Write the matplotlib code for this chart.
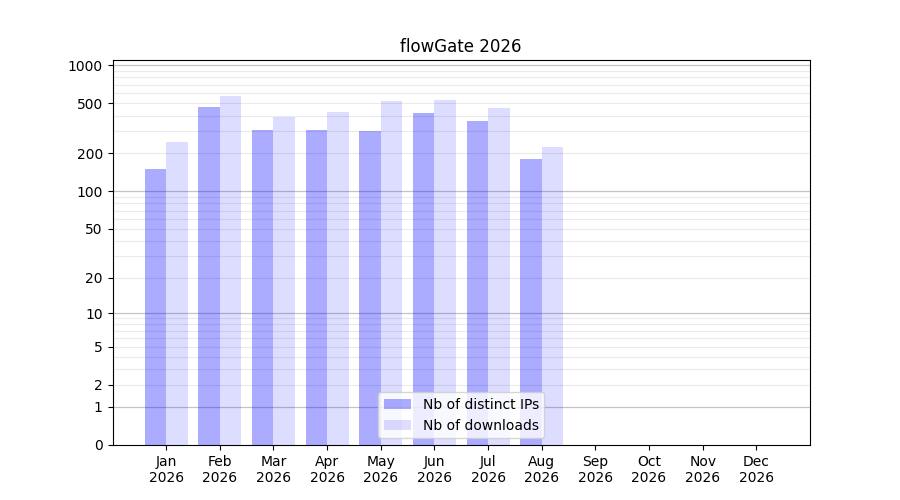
import numpy as np
import matplotlib
matplotlib.use("Agg")
import matplotlib.pyplot as plt

months = ["Jan", "Feb", "Mar", "Apr", "May", "Jun", "Jul", "Aug", "Sep", "Oct", "Nov", "Dec"]
year = "2026"
ips = [150, 470, 308, 308, 303, 420, 362, 181, 0, 0, 0, 0]
downloads = [246, 572, 390, 428, 522, 532, 460, 225, 0, 0, 0, 0]
yticks = [0, 1, 2, 5, 10, 20, 50, 100, 200, 500, 1000]

def fwd(y):
    return np.log10(1 + np.clip(y, 0, None))

def inv(y):
    return 10 ** y - 1

fig, ax = plt.subplots(figsize=(9, 5), dpi=100)
x = np.arange(len(months))
w = 0.4
ax.bar(x - w / 2, ips, width=w, color="blue", alpha=0.33, label="Nb of distinct IPs", zorder=2)
ax.bar(x + w / 2, downloads, width=w, color="blue", alpha=0.135, label="Nb of downloads", zorder=2)

ax.set_yscale("function", functions=(fwd, inv))
ax.set_ylim(0, 1100)
ax.set_xlim(-1, 12)
ax.set_yticks(yticks)
ax.set_yticklabels([str(t) for t in yticks])
minor = [m * 10 ** k for k in range(0, 4) for m in range(1, 10) if m * 10 ** k <= 1000 and m * 10 ** k not in yticks]
ax.set_yticks(minor, minor=True)
ax.tick_params(axis="y", which="minor", length=0)
for v in minor + [t for t in yticks if t not in (0, 1, 10, 100, 1000)]:
    ax.axhline(v, color="#ebebeb", lw=0.8, zorder=1)
for v in [1, 10, 100, 1000]:
    ax.axhline(v, color="#c4c4c4", lw=0.9, zorder=1)

ax.set_xticks(x)
ax.set_xticklabels([f"{m}\n{year}" for m in months])
ax.set_title("flowGate 2026")
ax.legend(loc="lower center")
fig.savefig("out.png", dpi=100)
